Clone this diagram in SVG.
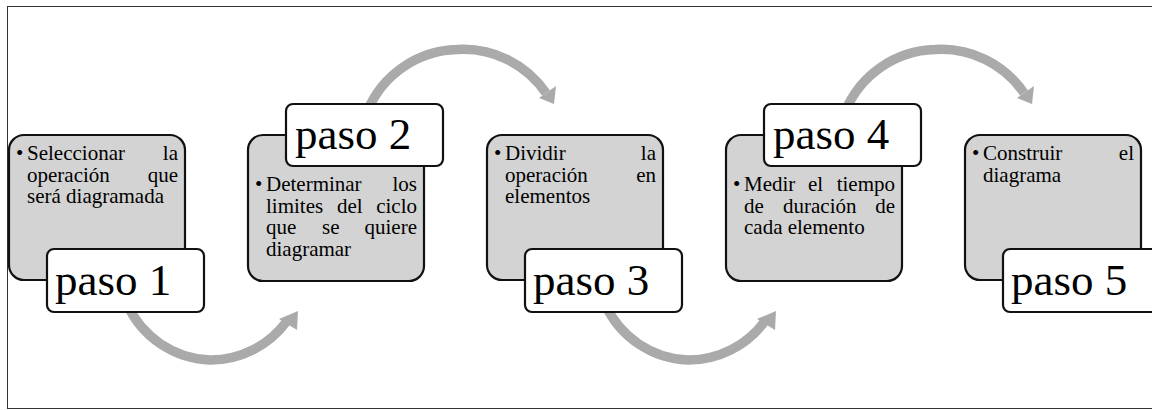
<svg xmlns="http://www.w3.org/2000/svg" width="1152" height="410" viewBox="0 0 1152 410">
<style>
.frame{fill:#fff;stroke:#333;stroke-width:1}
.box{fill:#d3d3d3;stroke:#111;stroke-width:2.2}
.lbl{fill:#fff;stroke:#111;stroke-width:2.2}
.arc{fill:none;stroke:#aaa;stroke-width:9.5}
.head{fill:#aaa}
.t{font-family:'Liberation Serif','Times New Roman',serif;font-size:21px;fill:#000}
.big{font-family:'Liberation Serif','Times New Roman',serif;font-size:45px;fill:#000}
</style>
<rect class="frame" x="7.5" y="6.5" width="1160" height="402"/>
<g id="connectors">
  <path class="arc" d="M127,304 A95,95 0 0 0 210,360 A95,95 0 0 0 287,321"/>
  <polygon class="head" points="279,319 298,311 297,330"/>
  <path class="arc" d="M367,112 A100,100 0 0 1 457,49.5 A100,100 0 0 1 546,93"/>
  <polygon class="head" points="539,98 556,86 554,104"/>
  <path class="arc" d="M605,304 A95,95 0 0 0 688,360 A95,95 0 0 0 765,321"/>
  <polygon class="head" points="757,319 776,311 775,330"/>
  <path class="arc" d="M845,112 A100,100 0 0 1 935,49.5 A100,100 0 0 1 1024,93"/>
  <polygon class="head" points="1017,98 1034,86 1032,104"/>
</g>
<g id="node1">
  <rect class="box" x="9" y="135" width="176" height="145" rx="15"/>
  <text class="t"><tspan x="16" y="160">•</tspan><tspan x="27" y="160">Seleccionar</tspan><tspan x="178" y="160" text-anchor="end">la</tspan><tspan x="27" y="181.5">operación</tspan><tspan x="178" y="181.5" text-anchor="end">que</tspan><tspan x="27" y="203">será diagramada</tspan></text>
  <rect class="lbl" x="47" y="249" width="157" height="63" rx="7"/>
  <text class="big" x="55" y="295">paso 1</text>
</g>
<g id="node2">
  <rect class="box" x="248" y="135" width="176" height="146" rx="15"/>
  <text class="t"><tspan x="255" y="191">•</tspan><tspan x="266" y="191">Determinar</tspan><tspan x="417" y="191" text-anchor="end">los</tspan><tspan x="266" y="212.5">limites</tspan><tspan x="337" y="212.5">del</tspan><tspan x="417" y="212.5" text-anchor="end">ciclo</tspan><tspan x="266" y="234">que</tspan><tspan x="322" y="234">se</tspan><tspan x="417" y="234" text-anchor="end">quiere</tspan><tspan x="266" y="255.5">diagramar</tspan></text>
  <rect class="lbl" x="286" y="104" width="157" height="62" rx="7"/>
  <text class="big" x="295" y="149">paso 2</text>
</g>
<g id="node3">
  <rect class="box" x="487" y="135" width="176" height="145" rx="15"/>
  <text class="t"><tspan x="494" y="160">•</tspan><tspan x="505" y="160">Dividir</tspan><tspan x="656" y="160" text-anchor="end">la</tspan><tspan x="505" y="181.5">operación</tspan><tspan x="656" y="181.5" text-anchor="end">en</tspan><tspan x="505" y="203">elementos</tspan></text>
  <rect class="lbl" x="525" y="249" width="157" height="63" rx="7"/>
  <text class="big" x="533" y="295">paso 3</text>
</g>
<g id="node4">
  <rect class="box" x="726" y="135" width="176" height="146" rx="15"/>
  <text class="t"><tspan x="733" y="191">•</tspan><tspan x="744" y="191">Medir</tspan><tspan x="808" y="191">el</tspan><tspan x="895" y="191" text-anchor="end">tiempo</tspan><tspan x="744" y="212.5">de</tspan><tspan x="783" y="212.5">duración</tspan><tspan x="895" y="212.5" text-anchor="end">de</tspan><tspan x="744" y="234">cada elemento</tspan></text>
  <rect class="lbl" x="764" y="104" width="157" height="62" rx="7"/>
  <text class="big" x="773" y="149">paso 4</text>
</g>
<g id="node5">
  <rect class="box" x="965" y="135" width="176" height="145" rx="15"/>
  <text class="t"><tspan x="972" y="160">•</tspan><tspan x="983" y="160">Construir</tspan><tspan x="1134" y="160" text-anchor="end">el</tspan><tspan x="983" y="181.5">diagrama</tspan></text>
  <rect class="lbl" x="1003" y="249" width="157" height="63" rx="7"/>
  <text class="big" x="1011" y="295">paso 5</text>
</g>
</svg>
